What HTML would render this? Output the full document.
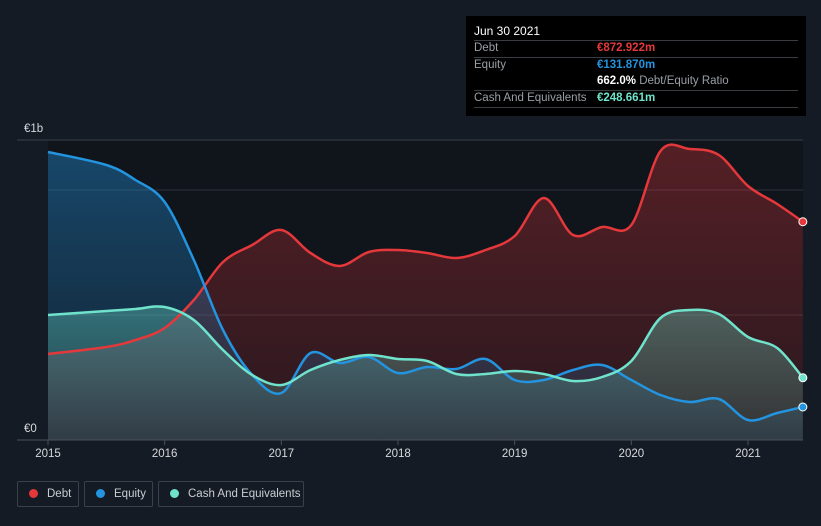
<!DOCTYPE html>
<html><head><meta charset="utf-8"><style>
body{margin:0;background:#151b24;width:821px;height:526px;overflow:hidden;font-family:"Liberation Sans",sans-serif;}
#tip{position:absolute;left:466px;top:16px;width:340px;height:100px;background:#000;}
.row{position:absolute;left:8px;width:324px;font-size:11.5px;color:#9a9fa6;}
.ln{position:absolute;left:8px;width:324px;height:1px;background:#3a3d42;}
.v{position:absolute;left:123px;font-weight:bold;}
.leg{position:absolute;top:481px;border:1px solid #3a414c;border-radius:2px;color:#c9cdd2;font-size:11.5px;line-height:24px;box-sizing:border-box;height:26px;white-space:nowrap;}
.leg i{display:inline-block;width:9px;height:9px;border-radius:50%;margin:0 9px 0 11px;vertical-align:-1px;}
</style></head><body>
<svg id="chart" width="821" height="526" style="position:absolute;left:0;top:0">
<defs>
<linearGradient id="gd" x1="0" y1="0" x2="0" y2="1"><stop offset="0" stop-color="#e5383b" stop-opacity="0.32"/><stop offset="1" stop-color="#e5383b" stop-opacity="0.12"/></linearGradient>
<linearGradient id="ge" x1="0" y1="0" x2="0" y2="1"><stop offset="0" stop-color="#2394df" stop-opacity="0.4"/><stop offset="1" stop-color="#2394df" stop-opacity="0.1"/></linearGradient>
<linearGradient id="gc" x1="0" y1="0" x2="0" y2="1"><stop offset="0" stop-color="#6fe3cc" stop-opacity="0.35"/><stop offset="1" stop-color="#6fe3cc" stop-opacity="0.12"/></linearGradient>
</defs>
<rect x="48" y="140" width="755" height="300" fill="#10141b"/>
<g id="grid"></g><g id="areas"></g><g id="lines"></g><g id="axis"></g>
</svg>
<div id="tip">
<div class="row" style="top:8px;color:#fff;font-size:12px">Jun 30 2021</div>
<div class="ln" style="top:24px"></div>
<div class="row" style="top:26px">Debt<span class="v" style="color:#e5383b">€872.922m</span></div>
<div class="ln" style="top:41px"></div>
<div class="row" style="top:43px">Equity<span class="v" style="color:#2394df">€131.870m</span></div>
<div class="row" style="top:59px"><span class="v" style="color:#fff;left:123px">662.0%<span style="color:#9a9fa6;font-weight:normal"> Debt/Equity Ratio</span></span></div>
<div class="ln" style="top:74px"></div>
<div class="row" style="top:76px">Cash And Equivalents<span class="v" style="color:#6fe3cc">€248.661m</span></div>
<div class="ln" style="top:91px"></div>
</div>
<div class="leg" style="left:17px;width:62px"><i style="background:#e5383b"></i>Debt</div>
<div class="leg" style="left:84px;width:69px"><i style="background:#2394df"></i>Equity</div>
<div class="leg" style="left:158px;width:146px"><i style="background:#6fe3cc"></i>Cash And Equivalents</div>
<script>
const times=[2015,2015.5,2015.75,2016,2016.25,2016.5,2016.75,2017,2017.25,2017.5,2017.75,2018,2018.25,2018.5,2018.75,2019,2019.25,2019.5,2019.75,2020,2020.25,2020.5,2020.75,2021,2021.25,2021.47];
const debt=[344,372,400,448,560,712,780,840,748,696,752,760,748,728,760,816,968,820,852,860,1156,1164,1140,1016,944,873];
const equity=[1152,1100,1040,952,720,440,260,188,348,308,332,268,292,284,324,240,240,280,300,240,180,152,164,80,108,132];
const cash=[500,516,524,532,480,360,260,220,280,320,340,324,316,264,264,276,264,236,252,316,488,520,504,412,368,249];
const xTicks=[2015,2016,2017,2018,2019,2020,2021];
const NS='http://www.w3.org/2000/svg';
const X=t=>48+(t-2015)*116.67, Y=v=>440-v*0.25;
function mk(tag,a,p){const e=document.createElementNS(NS,tag);for(const k in a)e.setAttribute(k,a[k]);document.getElementById(p).appendChild(e);return e;}
function path(vals){const p=times.map((t,i)=>[X(t),Y(vals[i])]);let d='M'+p[0][0]+','+p[0][1];
for(let i=0;i<p.length-1;i++){const p0=p[i-1]||p[i],p1=p[i],p2=p[i+1],p3=p[i+2]||p2;
d+=` C${p1[0]+(p2[0]-p0[0])/6},${p1[1]+(p2[1]-p0[1])/6} ${p2[0]-(p3[0]-p1[0])/6},${p2[1]-(p3[1]-p1[1])/6} ${p2[0]},${p2[1]}`;}return d;}
[190,315].forEach(y=>{const g=mk('line',{x1:48,x2:803,y1:y,y2:y,stroke:'#2c323b','stroke-width':1},'grid');

});
const topLine=mk('line',{x1:17,x2:803,y1:140,y2:140,stroke:'#3a4049'},'grid');


const lastT=times[times.length-1];
const series=[[debt,'#e5383b','gd','debt'],[equity,'#2394df','ge','equity'],[cash,'#6fe3cc','gc','cash']];
series.forEach(([v,c,g,n])=>{const d=path(v);
const a=mk('path',{d:d+` L${X(lastT)},440 L48,440 Z`,fill:`url(#${g})`},'areas');


const l=mk('path',{d:d,fill:'none',stroke:c,'stroke-width':2.5},'lines');


const dot=mk('circle',{cx:X(lastT),cy:Y(v[v.length-1]),r:4,fill:c,stroke:'#fff','stroke-width':1},'lines');

});
const base=mk('line',{x1:17,x2:803,y1:440,y2:440,stroke:'#4a5059'},'axis');


xTicks.forEach(t=>{const tk=mk('line',{x1:X(t),x2:X(t),y1:440,y2:445,stroke:'#4a5059'},'axis');


const tx=mk('text',{x:X(t),y:457,fill:'#d6d9dd','font-size':11.5,'text-anchor':'middle'},'axis');tx.textContent=t;

});
[['€1b',132],['€0',432]].forEach(([s,y])=>{const tx=mk('text',{x:24,y:y,fill:'#d6d9dd','font-size':11.5},'axis');tx.textContent=s;

});
</script>
</body></html>
